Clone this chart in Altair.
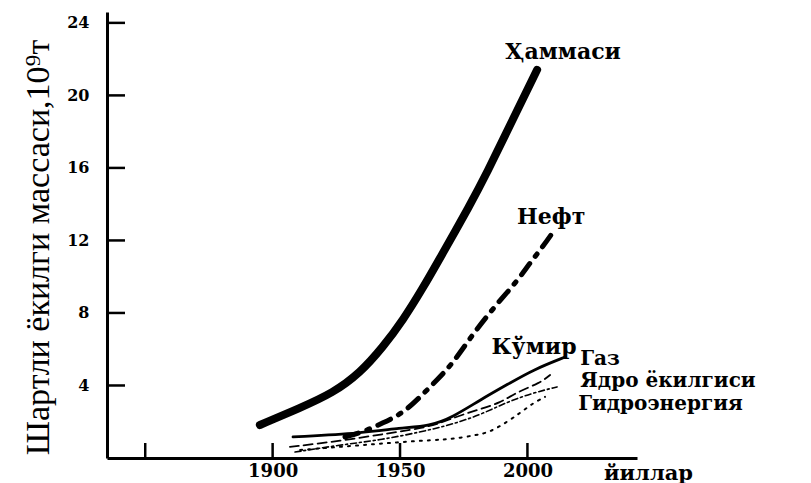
import altair as alt
import pandas as pd

# ---- data ----
years_total = [1895, 1910.7, 1923.7, 1934.3, 1943.3, 1951.2, 1959, 1965.7, 1977.5, 1984.1, 1993.2, 2003.8]
total = [1.82, 2.76, 3.59, 4.69, 6.12, 7.61, 9.38, 11.03, 13.96, 15.72, 18.37, 21.41]

years_oil = [1928.4, 1935.5, 1943.3, 1951.2, 1957.9, 1964.5, 1970.8, 1977.5, 1984.5, 1990.4, 1996.3, 2001.0, 2005.7, 2010.1]
oil = [1.16, 1.43, 1.93, 2.48, 3.37, 4.30, 5.24, 6.62, 7.89, 8.88, 9.82, 10.76, 11.59, 12.47]

years_coal = [1908, 1935.5, 1950, 1961.8, 1970.8, 1981.4, 1993.2, 2002.2, 2014.8]
coal = [1.16, 1.38, 1.66, 1.77, 2.26, 3.20, 4.14, 4.86, 5.57]

years_gas = [1906.8, 1926.5, 1946.1, 1961.8, 1970.8, 1980.2, 1989.3, 1995.9, 2005.0, 2008.9]
gas = [0.61, 0.94, 1.38, 1.71, 2.21, 2.65, 3.03, 3.64, 4.14, 4.58]

years_nuclear = [1908.8, 1926.5, 1942.2, 1957.9, 1969.6, 1981.4, 1992.0, 2002.2, 2011.6]
nuclear = [0.33, 0.72, 0.99, 1.43, 1.82, 2.37, 3.09, 3.59, 3.92]

years_hydro = [1910.8, 1930.4, 1950.0, 1963.0, 1970.8, 1980.2, 1985.3, 1992.0, 1997.1, 2002.2, 2006.9]
hydro = [0.44, 0.66, 0.88, 0.99, 1.05, 1.27, 1.43, 1.99, 2.48, 3.03, 3.37]

x_tick_years = [1850, 1900, 1950, 2000]
x_label_years = [1900, 1950, 2000]
y_tick_values = [4, 8, 12, 16, 20, 24]

label_center_text = ["Ҳаммаси", "Нефт", "Кўмир"]
label_center_x = [2014.0, 2009.3, 2002.6]
label_center_y = [22.4, 13.3, 6.12]

label_left_text = ["Газ", "Ядро ёкилгиси", "Гидроэнергия"]
label_left_x = [2020.7, 2020.7, 2019.9]
label_left_y = [5.46, 4.25, 2.98]

y_title = "Шартли ёкилги массаси,10⁹т"
x_title = "йиллар"

# ---- build tables ----
def series_df(name, xs, ys):
    return pd.DataFrame({"year": xs, "value": ys, "series": name})

df = pd.concat([
    series_df("total", years_total, total),
    series_df("oil", years_oil, oil),
    series_df("coal", years_coal, coal),
    series_df("gas", years_gas, gas),
    series_df("nuclear", years_nuclear, nuclear),
    series_df("hydro", years_hydro, hydro),
], ignore_index=True)

W, H = 530, 446
xscale = alt.Scale(domain=[1835, 2043], nice=False, zero=False)
yscale = alt.Scale(domain=[0, 24.6], nice=False, zero=False)

SERIF = "DejaVu Serif"

base = alt.Chart(df)

x_axis = alt.X(
    "year:Q", scale=xscale,
    axis=alt.Axis(
        values=x_label_years, format="d", ticks=False, grid=False,
        domainWidth=3, domainColor="black",
        labelFont=SERIF, labelFontWeight="bold", labelFontSize=18, labelColor="black",
        labelPadding=4, labelFlush=False,
        title=x_title, titleFont=SERIF, titleFontWeight="bold", titleFontSize=21,
        titleColor="black", titleX=541, titleY=15, titleAlign="center", titleBaseline="middle",
    ),
)
y_axis = alt.Y(
    "value:Q", scale=yscale,
    axis=alt.Axis(
        values=y_tick_values, ticks=False, grid=False,
        domainWidth=3, domainColor="black",
        labelFont=SERIF, labelFontWeight="bold", labelFontSize=16, labelColor="black",
        labelPadding=18,
        title=y_title, titleFont="Liberation Serif", titleFontWeight="normal", titleFontSize=34,
        titleColor="black", titleX=-69, titleY=235, titleAngle=270,
        titleAlign="center", titleBaseline="middle",
    ),
)
x_plain = alt.X("year:Q", scale=xscale)
y_plain = alt.Y("value:Q", scale=yscale)


def line_layer(name, width, dash=None, axes=False):
    kw = dict(color="black", strokeWidth=width, interpolate="basis", strokeCap="round")
    if dash:
        kw["strokeDash"] = dash
    return base.transform_filter(alt.datum.series == name).mark_line(**kw).encode(
        x=x_axis if axes else x_plain,
        y=y_axis if axes else y_plain,
        order="year:Q",
    )

total_l = line_layer("total", 8, axes=True)
oil_l = line_layer("oil", 5, [14, 9, 3, 9])
coal_l = line_layer("coal", 2.8)
gas_l = line_layer("gas", 1.8, [9, 5])
nuc_l = line_layer("nuclear", 1.6, [6, 3, 2, 3])
hydro_l = line_layer("hydro", 2, [2, 6])

ytick_l = alt.Chart(pd.DataFrame({"value": y_tick_values})).mark_rule(
    color="black", strokeWidth=2.5).encode(
    y=y_plain, x=alt.value(0), x2=alt.value(18))
xtick_l = alt.Chart(pd.DataFrame({"year": x_tick_years})).mark_rule(
    color="black", strokeWidth=2.5).encode(
    x=x_plain, y=alt.value(H), y2=alt.value(H - 15))

lab_c = alt.Chart(pd.DataFrame({"t": label_center_text, "year": label_center_x, "value": label_center_y})).mark_text(
    font=SERIF, fontWeight="bold", fontSize=22, color="black", align="center", baseline="middle").encode(
    x=x_plain, y=y_plain, text="t:N")
lab_l = alt.Chart(pd.DataFrame({"t": label_left_text, "year": label_left_x, "value": label_left_y})).mark_text(
    font=SERIF, fontWeight="bold", fontSize=20, color="black", align="left", baseline="middle").encode(
    x=x_plain, y=y_plain, text="t:N")

chart = alt.layer(
    total_l, oil_l, coal_l, gas_l, nuc_l, hydro_l, ytick_l, xtick_l, lab_c, lab_l
).properties(
    width=W, height=H,
    autosize=alt.AutoSizeParams(type="none"),
    padding={"left": 99, "top": 4, "right": 166, "bottom": 28},
    background="white",
).configure_view(stroke=None)

chart.save("out.html", embed_options={"renderer": "svg", "actions": False})
